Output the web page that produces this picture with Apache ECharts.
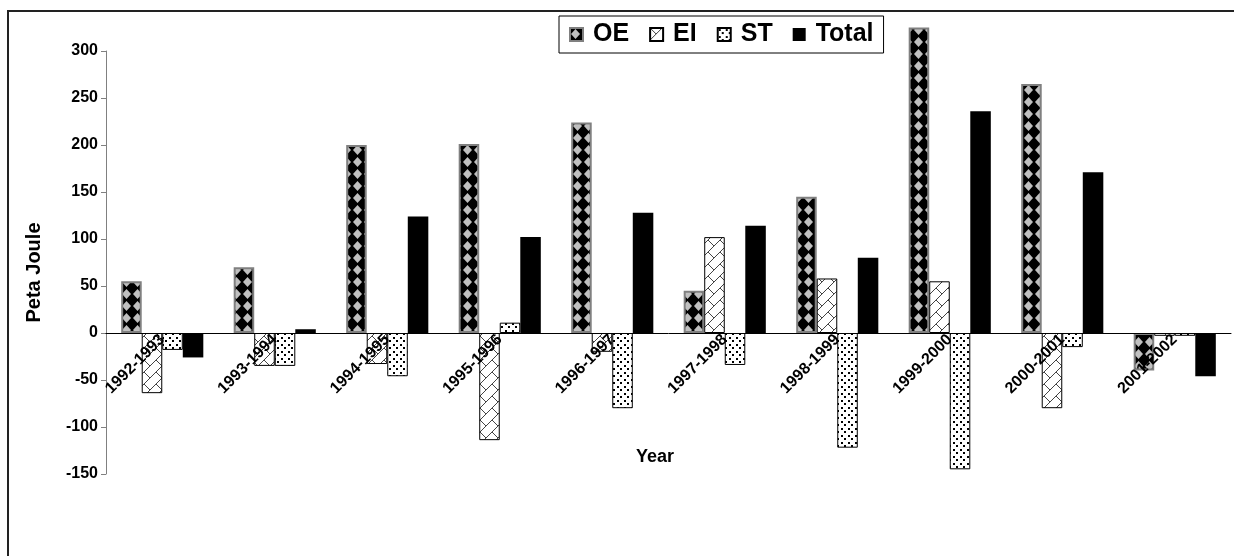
<!DOCTYPE html>
<html>
<head>
<meta charset="utf-8">
<script src="https://cdn.jsdelivr.net/npm/echarts@6/dist/echarts.min.js"></script>
<style>
  html, body { margin: 0; padding: 0; background: #fff; }
  #main { width: 1234px; height: 556px; }
</style>
</head>
<body>
<div id="main"></div>
<script>
// data
const years = ['1992-1993', '1993-1994', '1994-1995', '1995-1996', '1996-1997',
               '1997-1998', '1998-1999', '1999-2000', '2000-2001', '2001-2002'];
const oe    = [55, 70, 200, 201, 224, 45, 145, 325, 265, -40];
const ei    = [-64, -35, -33, -114, -20, 102, 58, 55, -80, -3];
const st    = [-18, -35, -46, 11, -80, -34, -122, -145, -15, -3];
const total = [-26, 4, 124, 102, 128, 114, 80, 236, 171, -46];
const yTicks = { min: -150, max: 300, step: 50 };

// little pattern tiles like the old excel fills
function tile(w, h, draw) {
  const c = document.createElement('canvas');
  c.width = w; c.height = h;
  draw(c.getContext('2d'));
  return { image: c, repeat: 'repeat' };
}

const oeFill = tile(11, 12, function (g) {
  g.fillStyle = '#000'; g.fillRect(0, 0, 11, 12);
  g.fillStyle = '#c0c0c0';
  g.beginPath();
  g.moveTo(5.5, 1); g.lineTo(10, 6); g.lineTo(5.5, 11); g.lineTo(1, 6);
  g.closePath(); g.fill();
});

const eiFill = tile(12, 12, function (g) {
  g.fillStyle = '#fff'; g.fillRect(0, 0, 12, 12);
  g.strokeStyle = '#444'; g.lineWidth = 1;
  g.beginPath();
  g.moveTo(0, 12); g.lineTo(12, 0);
  g.moveTo(0, 0); g.lineTo(6, 6);
  g.stroke();
});

const stFill = tile(7, 7, function (g) {
  g.fillStyle = '#fff'; g.fillRect(0, 0, 7, 7);
  g.fillStyle = '#000';
  g.fillRect(1, 1, 2, 2);
  g.fillRect(4, 4, 2, 2);
});

const chart = echarts.init(document.getElementById('main'));
const font = '"Liberation Sans", Arial, sans-serif';

// grid box, the x axis sits on the zero line
const gridTop = 51, gridBottom = 82;
const plotH = 556 - gridTop - gridBottom;
const zeroOffset = plotH * (0 - yTicks.min) / (yTicks.max - yTicks.min);

function bar(name, data, color, border, bw) {
  return {
    name: name,
    type: 'bar',
    data: data,
    clip: false,
    barGap: '0%',
    barCategoryGap: '27%',
    itemStyle: { color: color, borderColor: border, borderWidth: bw },
    emphasis: { disabled: true }
  };
}

chart.setOption({
  animation: false,
  backgroundColor: '#fff',
  graphic: [{
    type: 'rect',
    shape: { x: 8, y: 11, width: 1240, height: 560 },
    style: { fill: null, stroke: '#222', lineWidth: 2 },
    z: 0
  }],
  legend: {
    left: 559, top: 16,
    padding: [6, 10, 6, 10],
    borderColor: '#000', borderWidth: 1,
    backgroundColor: '#fff',
    icon: 'rect',
    itemWidth: 13, itemHeight: 13, itemGap: 20,
    textStyle: { fontFamily: font, fontWeight: 'bold', fontSize: 25, color: '#000', padding: [0, 0, 0, 5] },
    data: ['OE', 'EI', 'ST', 'Total']
  },
  grid: { left: 106, right: 3, top: gridTop, bottom: gridBottom, outerBoundsMode: 'none', containLabel: false },
  xAxis: {
    type: 'category',
    data: years,
    offset: -zeroOffset,
    z: 10,
    name: 'Year',
    nameLocation: 'middle',
    nameGap: 115,
    nameTextStyle: { fontFamily: font, fontWeight: 'bold', fontSize: 18, color: '#000', padding: [0, 27, 0, 0] },
    axisLine: { onZero: false, lineStyle: { color: '#000', width: 1 } },
    axisTick: { length: 5, lineStyle: { color: '#000' } },
    axisLabel: { rotate: 45, margin: 4, fontFamily: font, fontWeight: 'bold', fontSize: 16, color: '#000' }
  },
  yAxis: {
    type: 'value',
    min: yTicks.min, max: yTicks.max, interval: yTicks.step,
    name: 'Peta Joule',
    nameLocation: 'middle',
    nameGap: 62,
    nameTextStyle: { fontFamily: font, fontWeight: 'bold', fontSize: 20, color: '#000', padding: [0, 20, 0, 0] },
    axisLine: { show: true, lineStyle: { color: '#808080' } },
    axisTick: { show: true, length: 5, lineStyle: { color: '#808080' } },
    splitLine: { show: false },
    axisLabel: { margin: 8, fontFamily: font, fontWeight: 'bold', fontSize: 16, color: '#000' }
  },
  series: [
    bar('OE', oe, oeFill, '#808080', 2),
    bar('EI', ei, eiFill, '#000', 1),
    bar('ST', st, stFill, '#000', 1),
    bar('Total', total, '#000', '#000', 0)
  ]
});
</script>
</body>
</html>
